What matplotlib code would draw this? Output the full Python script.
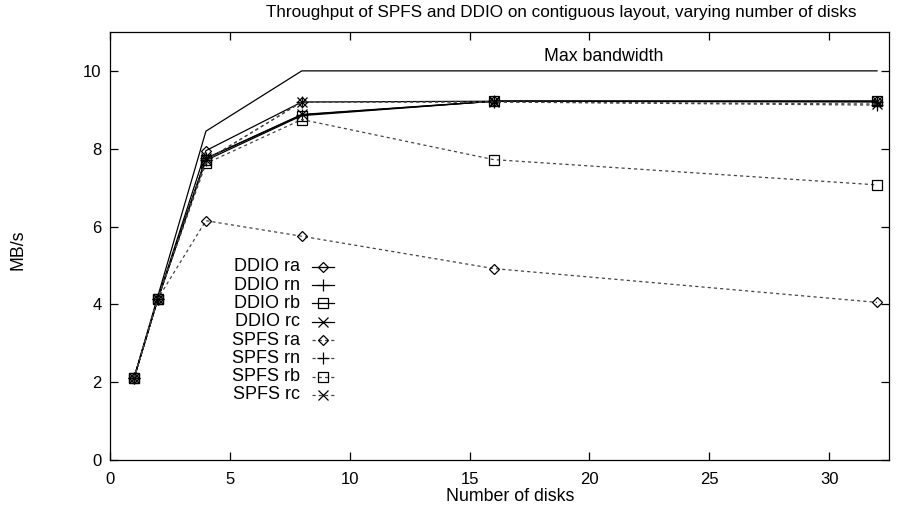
import matplotlib
matplotlib.use("Agg")
from matplotlib import pyplot as plt
from matplotlib.lines import Line2D

plt.rcParams['font.family'] = ['Liberation Sans', 'DejaVu Sans']

disks = [1, 2, 4, 8, 16, 32]
max_bandwidth = [2.11, 4.22, 8.45, 10.0, 10.0, 10.0]

ddio_ra = [2.1, 4.15, 7.95, 9.2, 9.22, 9.22]
ddio_rn = [2.1, 4.15, 7.75, 8.87, 9.22, 9.2]
ddio_rb = [2.1, 4.15, 7.7, 8.85, 9.22, 9.22]
ddio_rc = [2.1, 4.15, 7.75, 8.88, 9.22, 9.22]
spfs_ra = [2.1, 4.15, 6.15, 5.75, 4.92, 4.05]
spfs_rn = [2.1, 4.15, 7.7, 9.2, 9.2, 9.12]
spfs_rb = [2.1, 4.15, 7.62, 8.75, 7.72, 7.07]
spfs_rc = [2.1, 4.15, 7.7, 9.2, 9.2, 9.15]

series = [
    ("DDIO ra", ddio_ra, "D", "-"),
    ("DDIO rn", ddio_rn, "+", "-"),
    ("DDIO rb", ddio_rb, "s", "-"),
    ("DDIO rc", ddio_rc, "x", "-"),
    ("SPFS ra", spfs_ra, "D", (0, (2.5, 2.5))),
    ("SPFS rn", spfs_rn, "+", (0, (2.5, 2.5))),
    ("SPFS rb", spfs_rb, "s", (0, (2.5, 2.5))),
    ("SPFS rc", spfs_rc, "x", (0, (2.5, 2.5))),
]

fig = plt.figure(figsize=(9.2, 5.09), dpi=100)
ax = fig.add_axes([0.1196, 0.0963, 0.8467, 0.8409])

ax.plot(disks, max_bandwidth, color="black", linewidth=0.9)
ax.text(20.6, 10.38, "Max bandwidth", ha="center", va="center", fontsize=12.8)


def marker_kw(marker):
    size = {"D": 5.5, "s": 7, "+": 8, "x": 7}[marker]
    return dict(marker=marker, markersize=size, markerfacecolor="none",
                markeredgecolor="black", markeredgewidth=0.9)


def line_color(style):
    return "black" if style == "-" else "#444444"


for label, values, marker, style in series:
    ax.plot(disks, values, color=line_color(style), linestyle=style,
            linewidth=0.9, **marker_kw(marker))

# gnuplot-style key: right aligned text, sample line to the right
for i, (label, values, marker, style) in enumerate(series):
    ty = 0.451 - i * 0.0427
    ax.text(0.244, ty, label, transform=ax.transAxes, ha="right",
            va="center", fontsize=13)
    ax.add_line(Line2D([0.259, 0.287], [ty, ty], transform=ax.transAxes,
                       color=line_color(style), linestyle=style, linewidth=0.9))
    ax.add_line(Line2D([0.273], [ty], transform=ax.transAxes,
                       linestyle="none", **marker_kw(marker)))

ax.set_xlim(0, 32.5)
ax.set_ylim(0, 11)
ax.set_xticks([0, 5, 10, 15, 20, 25, 30])
ax.set_yticks([0, 2, 4, 6, 8, 10])
ax.tick_params(direction="in", length=6, width=0.9, top=True, right=True,
               labelsize=12, pad=6)
ax.tick_params(axis="x", pad=9)
for spine in ax.spines.values():
    spine.set_linewidth(0.9)

fig.text(0.61, 0.976,
         "Throughput of SPFS and DDIO on contiguous layout, varying number of disks",
         ha="center", va="center", fontsize=12.3)
fig.text(0.555, 0.0255, "Number of disks", ha="center", va="center", fontsize=12.8)
fig.text(0.0196, 0.509, "MB/s", ha="center", va="center", rotation=90,
         fontsize=12.8)

fig.savefig("out.png", dpi=100)
